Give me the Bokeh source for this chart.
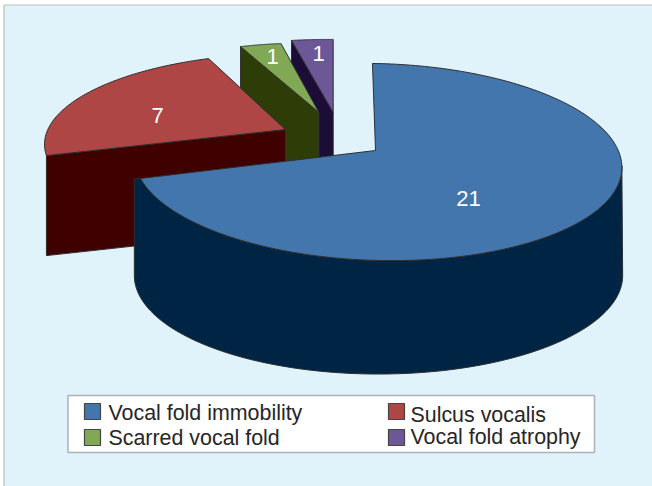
import math
from bokeh.plotting import figure
from bokeh.models import Range1d
from bokeh.core.properties import value
from bokeh.embed import file_html
from bokeh.resources import INLINE

# ---- data ----
categories = ["Vocal fold immobility", "Sulcus vocalis", "Scarred vocal fold", "Vocal fold atrophy"]
counts = [21, 7, 1, 1]

# ---- style / layout ----
top_colors = ["#4276AC", "#AE4645", "#80A855", "#6C5896"]
side_colors = ["#002444", "#3F0000", "#2E3D08", "#1B0C38"]
BG = "#E0F3FB"
EDGE = "#2F2F2F"
FONT = value("Liberation Sans")

# projection of each exploded slice: origin, 2x2 matrix, perspective, depth
views = [
    dict(x0=377, y0=150, a=242, b=-5.6, c=-3.2, d=97.2, k=0.1168, depth=113.5, apex=(375, 150)),
    dict(x0=285, y0=129, a=236.6, b=9.6, c=-2.2, d=87.3, k=0.15, depth=100, apex=(285, 129)),
    dict(x0=318.5, y0=112, a=228, b=3.9, c=-5.0, d=79.8, k=0.15, depth=100, apex=(318.5, 112)),
    dict(x0=332.7, y0=112, a=229.8, b=0, c=-2.2, d=84, k=0.15, depth=100, apex=(332.7, 112)),
]
label_pos = [(468, 198), (157, 115), (272, 56), (318, 53)]


def proj(theta, v):
    t = math.radians(theta)
    u_, v_ = math.sin(t), math.cos(t)
    w = 1 + v["k"] * v_
    return (v["x0"] + (v["a"] * u_ + v["b"] * v_) / w,
            v["y0"] - (v["c"] * u_ + v["d"] * v_) / w)


def arc(t0, t1, v, n=90):
    return [proj(t0 + (t1 - t0) * i / n, v) for i in range(n + 1)]


total = sum(counts)
angles = []
cum = 0
for c in counts:
    angles.append((360 * cum / total, 360 * (cum + c) / total))
    cum += c

p = figure(width=652, height=486, x_range=Range1d(0, 652), y_range=Range1d(486, 0),
           toolbar_location=None, output_backend="svg", min_border=0)
p.axis.visible = False
p.grid.visible = False
p.outline_line_color = None
p.background_fill_color = "#FFFFFF"
p.border_fill_color = "#FFFFFF"

# panel background with its thin frame on the top and left
p.quad(left=[3.5], right=[660], top=[4.5], bottom=[495], fill_color=BG, line_color="#BDBDBD", line_width=1.2)


def poly(pts, fill, lc=EDGE, lw=1.0):
    p.patch([q[0] for q in pts], [q[1] for q in pts], fill_color=fill, line_color=lc, line_width=lw)


# back-to-front: atrophy, scarred, sulcus, immobility
for i in [3, 2, 1]:
    v = views[i]
    t0, t1 = angles[i]
    first = proj(t0, v)
    ax, ay = v["apex"]
    poly([first, (ax, ay), (ax, ay + v["depth"]), (first[0], first[1] + v["depth"])], side_colors[i])
    poly([(ax, ay)] + arc(t0, t1, v), top_colors[i])

# main slice: outer wall, then top surface
v = views[0]
t0, t1 = angles[0]
bottom = dict(v, x0=378, y0=v["y0"] + v["depth"], a=242.5, b=0, c=0)
top_arc = arc(97, t1, v)
end = top_arc[-1]
low_arc = arc(263, 97, bottom)
poly(top_arc + [(low_arc[0][0], end[1])] + low_arc, side_colors[0])
poly([v["apex"]] + arc(t0, t1, v, 200), top_colors[0])

# value labels
p.text([q[0] for q in label_pos], [q[1] for q in label_pos], text=[str(c) for c in counts],
       text_color="#FFFFFF", text_font=FONT, text_font_size="22px",
       text_align="center", text_baseline="middle")

# legend box
p.quad(left=[67.5], right=[594], top=[395], bottom=[452], fill_color="#FFFFFF",
       line_color="#ABB1B8", line_width=1.5)
sw_left = [84, 388, 84, 388]
sw_top = [403, 403, 429, 429]
p.quad(left=sw_left, right=[q + 16 for q in sw_left], top=sw_top, bottom=[q + 16 for q in sw_top],
       fill_color=top_colors, line_color="#444444", line_width=1.2)
p.text([108, 410, 108, 410], [412, 414, 437, 436], text=categories,
       text_color="#262626", text_font=FONT, text_font_size="21.4px",
       text_align="left", text_baseline="middle")

open("out.html", "w").write(file_html(p, INLINE))
